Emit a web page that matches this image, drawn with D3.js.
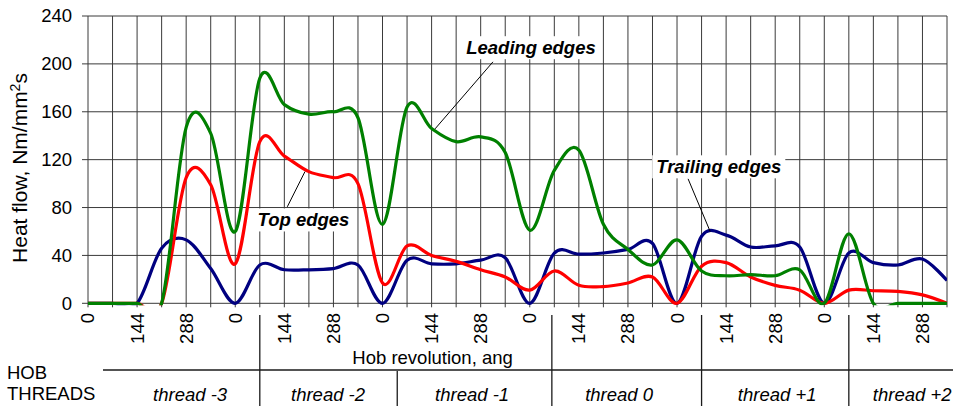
<!DOCTYPE html>
<html lang="en">
<head>
<meta charset="utf-8">
<title>Heat flow per hob thread</title>
<script src="https://d3js.org/d3.v7.min.js"></script>
<style>
  body { margin: 0; background: #fff; }
  svg { display: block; font-family: Arial, "Liberation Sans", sans-serif; }
  .grid line { stroke: #3a3a3a; stroke-width: 1; }
  .serie { fill: none; stroke-width: 3.2; stroke-linejoin: round; }
  .lbl { font-size: 18.5px; fill: #000; }
  .callout text { font-size: 18.5px; font-weight: bold; font-style: italic; }
  .callout line { stroke: #000; stroke-width: 1; }
  .table line { stroke: #1a1a1a; stroke-width: 1.3; }
</style>
</head>
<body>
<svg width="957" height="406"></svg>
<script>
// one step per grid line, 72 deg of hob revolution each
var steps = d3.range(36);
var angleLabels = ["0", "144", "288"];     // repeats every 6 steps, a label every 2 steps
var yTicks = [0, 40, 80, 120, 160, 200, 240];

// heat flow, Nm/mm2s, read at each grid line
var trailingEdges = [0, 0, 0, 46, 53, 29, 0, 32, 28, 28, 29, 32, 0, 36, 33, 33, 36, 38,
                     0, 42, 41, 42, 45, 50, 0, 56, 57, 47, 48, 47, 0, 42, 34, 32, 37, 19];
var topEdges      = [0, 0, 0, 0, 105, 99, 33, 135, 123, 110, 105, 100, 17, 48, 40, 35, 28, 22,
                     11, 27, 15, 14, 17, 22, 0, 31, 34, 22, 15, 11, 0, 11, 10.5, 10, 7, 0];
var leadingEdges  = [0, 0, 0, 0, 147, 142, 60, 188, 166, 158, 160, 155, 66, 164, 146, 135, 139, 126,
                     61, 111, 128, 66, 45, 32, 53, 27, 23, 24, 23, 28, 0, 58, 0, 0, 0, 0];

var threads = ["thread -3", "thread -2", "thread -1", "thread 0", "thread +1", "thread +2"];
var threadCenters = [4.16, 9.78, 15.65, 21.64, 28.08, 33.58];
var upperSeps = [7, 18.9, 25, 31];
var lowerSeps = [12.6];

var svg = d3.select("svg"),
    margin = {left: 88, top: 16, right: 10},
    plotBottom = 303.3;

var x = d3.scaleLinear().domain([0, 35]).range([margin.left, 947]);
var y = d3.scaleLinear().domain([0, 240]).range([plotBottom, margin.top]);

// grid
var grid = svg.append("g").attr("class", "grid");
grid.selectAll(".v").data(steps).enter().append("line")
    .attr("x1", d => x(d)).attr("x2", d => x(d))
    .attr("y1", y(240)).attr("y2", plotBottom + 4);
grid.selectAll(".h").data(yTicks).enter().append("line")
    .attr("x1", x(0) - 6).attr("x2", x(35))
    .attr("y1", d => y(d)).attr("y2", d => y(d));

// y labels
svg.append("g").selectAll("text").data(yTicks).enter().append("text")
    .attr("class", "lbl")
    .attr("x", 72).attr("y", d => y(d)).attr("dy", "0.35em")
    .attr("text-anchor", "end")
    .text(d => d);

svg.append("text")
    .attr("transform", "translate(26.5," + 168 + ") rotate(-90)")
    .attr("text-anchor", "middle")
    .style("font-size", "21px")
    .html("Heat flow, Nm/mm<tspan dy='-7' style='font-size:14px'>2</tspan><tspan dy='7'>s</tspan>");

// x labels (rotated)
var labelled = steps.filter(d => d % 2 === 0);
svg.append("g").selectAll("text").data(labelled).enter().append("text")
    .attr("class", "lbl")
    .attr("transform", d => "translate(" + x(d) + ",313) rotate(-90)")
    .attr("text-anchor", "end")
    .attr("dy", "0.35em")
    .text(d => angleLabels[(d / 2) % 3]);

// series
svg.append("clipPath").attr("id", "plotclip")
  .append("rect")
    .attr("x", x(0)).attr("y", y(240))
    .attr("width", x(35) - x(0)).attr("height", plotBottom - y(240) + 2);

var line = d3.line()
    .x((d, i) => x(steps[i]))
    .y(d => y(d))
    .curve(d3.curveCardinal.tension(0));

var series = [
  {values: trailingEdges, color: "#000080"},
  {values: topEdges, color: "#ff0000"},
  {values: leadingEdges, color: "#008000"}
];
svg.append("g").attr("clip-path", "url(#plotclip)")
  .selectAll("path").data(series).enter().append("path")
    .attr("class", "serie")
    .attr("stroke", d => d.color)
    .attr("d", d => line(d.values));

// callouts: text centre and pointer, in data units
var callouts = [
  {text: "Leading edges",  tx: 18.05, ty: 213.5, p: [[16.5, 201.7], [14.14, 145.7]]},
  {text: "Top edges",      tx: 8.78,  ty: 69.6,  p: [[8.84, 110], [8.12, 80.6]]},
  {text: "Trailing edges", tx: 25.7,  ty: 114,   p: [[24.45, 104], [25.35, 60]]}
];
var cg = svg.append("g").attr("class", "callout");
callouts.forEach(function(c) {
  cg.append("line")
    .attr("x1", x(c.p[0][0])).attr("y1", y(c.p[0][1]))
    .attr("x2", x(c.p[1][0])).attr("y2", y(c.p[1][1]));
  var box = cg.append("rect").attr("fill", "#fff");
  var t = cg.append("text")
    .attr("x", x(c.tx)).attr("y", y(c.ty)).attr("dy", "0.35em")
    .attr("text-anchor", "middle")
    .text(c.text);
  var b = t.node().getBBox();
  box.attr("x", b.x - 4).attr("y", b.y - 1).attr("width", b.width + 8).attr("height", b.height + 2);
});

// category table under the axis
var tb = svg.append("g").attr("class", "table");
tb.append("line").attr("x1", 103).attr("x2", 953).attr("y1", 370).attr("y2", 370);
tb.selectAll(".u").data(upperSeps).enter().append("line")
    .attr("x1", d => x(d)).attr("x2", d => x(d)).attr("y1", 315).attr("y2", 406);
tb.selectAll(".l").data(lowerSeps).enter().append("line")
    .attr("x1", d => x(d)).attr("x2", d => x(d)).attr("y1", 371).attr("y2", 406);

svg.append("text").attr("class", "lbl")
    .attr("x", x(14.04)).attr("y", 364).attr("text-anchor", "middle")
    .text("Hob revolution, ang");

svg.append("text").attr("class", "lbl").attr("x", 7).attr("y", 379).text("HOB");
svg.append("text").attr("class", "lbl").attr("x", 7).attr("y", 400).text("THREADS");

svg.append("g").selectAll("text").data(threads).enter().append("text")
    .attr("class", "lbl")
    .style("font-style", "italic")
    .attr("x", (d, i) => x(threadCenters[i])).attr("y", 401)
    .attr("text-anchor", "middle")
    .text(d => d);
</script>
</body>
</html>
